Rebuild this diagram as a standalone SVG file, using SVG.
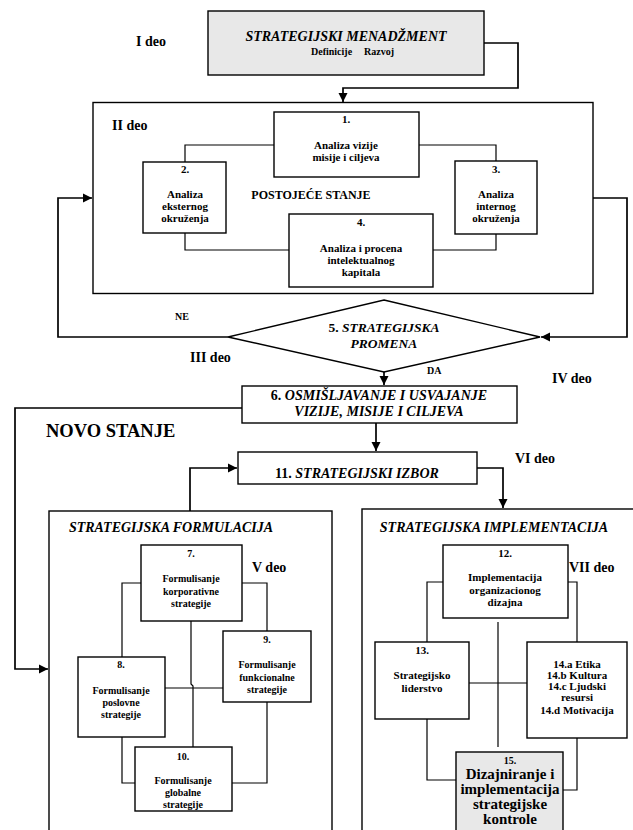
<svg xmlns="http://www.w3.org/2000/svg" width="633" height="830" viewBox="0 0 633 830">
<style>
text{font-family:"Liberation Serif","Times New Roman",serif;font-weight:bold;fill:#000}
.c{text-anchor:middle}
.i{font-style:italic}
.n{font-size:11px}
.f{font-size:10px}
.lbl{font-size:14px}
.box{fill:#fff;stroke:#000;stroke-width:1.4}
.gray{fill:#e8e8e8;stroke:#000;stroke-width:1.4}
.ln{fill:none;stroke:#000;stroke-width:1.2}
.ar{fill:none;stroke:#000;stroke-width:1.7}
</style>
<defs>
<marker id="ah" markerWidth="10" markerHeight="10" refX="9" refY="5" orient="auto" markerUnits="userSpaceOnUse">
<path d="M0,0.5 L9,5 L0,9.5 Z" fill="#000"/>
</marker>
</defs>
<rect width="633" height="830" fill="#fff"/>

<!-- containers -->
<g id="deo2">
<rect class="box" x="93" y="102.5" width="500" height="191"/>
<text class="lbl" x="112" y="130">II deo</text>
<text x="311" y="199" class="c" font-size="12">POSTOJEĆE STANJE</text>
</g>
<g id="formulacija">
<rect class="box" x="49" y="511" width="283" height="330"/>
<text class="i c" x="171" y="532" font-size="14">STRATEGIJSKA FORMULACIJA</text>
</g>
<g id="implementacija">
<rect class="box" x="362" y="509" width="290" height="330"/>
<text class="i c" x="494" y="532" font-size="14">STRATEGIJSKA IMPLEMENTACIJA</text>
</g>

<!-- connectors -->
<g id="connectors">
<path class="ar" d="M484 43 H518 V88 H343 V102" marker-end="url(#ah)"/>
<path class="ar" d="M593 198 H627 V337 H541" marker-end="url(#ah)"/>
<path class="ar" d="M228 337 H58 V198 H92" marker-end="url(#ah)"/>
<path class="ar" d="M384 372 V385" marker-end="url(#ah)"/>
<path class="ar" d="M242 408 H15 V669 H48" marker-end="url(#ah)"/>
<path class="ar" d="M376 423 V451" marker-end="url(#ah)"/>
<path class="ar" d="M190 511 V468 H237" marker-end="url(#ah)"/>
<path class="ar" d="M477 468 H503 V508" marker-end="url(#ah)"/>
<!-- box II internal -->
<path class="ln" d="M274 145 H185 V162"/>
<path class="ln" d="M419 145 H496 V161"/>
<path class="ln" d="M185 233 V250 H289"/>
<path class="ln" d="M433 250 H496 V234"/>
<!-- formulation internal -->
<path class="ln" d="M141 583 H122 V657"/>
<path class="ln" d="M242 583 H267 V631"/>
<path class="ln" d="M122 737 V783 H135"/>
<path class="ln" d="M267 702 V783 H232"/>
<path class="ln" d="M165 688 H223"/>
<path class="ln" d="M191 621 V684 L193 686 V747"/>
<!-- implementation internal -->
<path class="ln" d="M443 582 H427 V642"/>
<path class="ln" d="M568 582 H577 V642"/>
<path class="ln" d="M469 683 H527"/>
<path class="ln" d="M498 622 V747"/>
<path class="ln" d="M427 719 V780 H456"/>
<path class="ln" d="M577 738 V790 H563"/>
</g>

<!-- labels -->
<g id="labels">
<text class="lbl" x="136" y="46">I deo</text>
<text x="175" y="320" font-size="10">NE</text>
<text class="lbl" x="190" y="362">III deo</text>
<text x="427" y="374" font-size="10">DA</text>
<text class="lbl" x="552" y="383">IV deo</text>
<text x="46" y="437" font-size="18.5">NOVO STANJE</text>
<text class="lbl" x="515" y="463">VI deo</text>
<text class="lbl" x="252" y="572">V deo</text>
<text class="lbl" x="569" y="572">VII deo</text>
</g>

<!-- nodes -->
<g id="n-menadzment">
<rect class="gray" x="208" y="11" width="276" height="64"/>
<text class="i c" x="346" y="41" font-size="14">STRATEGIJSKI MENADŽMENT</text>
<text x="311" y="55" font-size="10">Definicije</text>
<text x="364" y="55" font-size="10">Razvoj</text>
</g>
<g id="n1">
<rect class="box" x="274" y="112" width="145" height="65"/>
<text class="c n" x="346" y="123">1.</text>
<text class="c n" x="346" y="149">Analiza vizije</text>
<text class="c n" x="346" y="161">misije i ciljeva</text>
</g>
<g id="n2">
<rect class="box" x="143" y="162" width="83" height="71"/>
<text class="c n" x="185" y="173">2.</text>
<text class="c n" x="185" y="198">Analiza</text>
<text class="c n" x="185" y="210">eksternog</text>
<text class="c n" x="185" y="222">okruženja</text>
</g>
<g id="n3">
<rect class="box" x="455" y="161" width="82" height="73"/>
<text class="c n" x="496" y="173">3.</text>
<text class="c n" x="496" y="198">Analiza</text>
<text class="c n" x="496" y="210">internog</text>
<text class="c n" x="496" y="222">okruženja</text>
</g>
<g id="n4">
<rect class="box" x="289" y="214" width="144" height="73"/>
<text class="c n" x="361" y="226">4.</text>
<text class="c n" x="361" y="252">Analiza i procena</text>
<text class="c n" x="361" y="264">intelektualnog</text>
<text class="c n" x="361" y="276">kapitala</text>
</g>
<g id="n5">
<polygon class="box" points="384,300 540,337 384,372 228,337"/>
<text class="c" x="384" y="332" font-size="13.5">5. <tspan font-style="italic">STRATEGIJSKA</tspan></text>
<text class="c i" x="384" y="348" font-size="13.5">PROMENA</text>
</g>
<g id="n6">
<rect class="box" x="242" y="386" width="275" height="37"/>
<text class="c" x="379" y="400" font-size="14">6. <tspan font-style="italic">OSMIŠLJAVANJE I USVAJANJE</tspan></text>
<text class="c i" x="379" y="416" font-size="14">VIZIJE, MISIJE I CILJEVA</text>
</g>
<g id="n11">
<rect class="box" x="238" y="452" width="239" height="32"/>
<text class="c" x="357" y="478" font-size="14">11. <tspan font-style="italic">STRATEGIJSKI IZBOR</tspan></text>
</g>
<g id="n7">
<rect class="box" x="141" y="545" width="101" height="76"/>
<text class="c f" x="191" y="557">7.</text>
<text class="c f" x="191" y="582">Formulisanje</text>
<text class="c f" x="191" y="595">korporativne</text>
<text class="c f" x="191" y="607">strategije</text>
</g>
<g id="n9">
<rect class="box" x="223" y="631" width="88" height="71"/>
<text class="c f" x="267" y="643">9.</text>
<text class="c f" x="267" y="668">Formulisanje</text>
<text class="c f" x="267" y="681">funkcionalne</text>
<text class="c f" x="267" y="693">strategije</text>
</g>
<g id="n8">
<rect class="box" x="78" y="657" width="87" height="80"/>
<text class="c f" x="121" y="668">8.</text>
<text class="c f" x="121" y="694">Formulisanje</text>
<text class="c f" x="121" y="706">poslovne</text>
<text class="c f" x="121" y="718">strategije</text>
</g>
<g id="n10">
<rect class="box" x="135" y="747" width="97" height="64"/>
<text class="c f" x="183" y="760">10.</text>
<text class="c f" x="183" y="784">Formulisanje</text>
<text class="c f" x="183" y="796">globalne</text>
<text class="c f" x="183" y="808">strategije</text>
</g>
<g id="n12">
<rect class="box" x="443" y="545" width="125" height="73"/>
<text class="c n" x="505" y="557">12.</text>
<text class="c n" x="505" y="581">Implementacija</text>
<text class="c n" x="505" y="594">organizacionog</text>
<text class="c n" x="505" y="606">dizajna</text>
</g>
<g id="n13">
<rect class="box" x="375" y="642" width="94" height="77"/>
<text class="c n" x="422" y="654">13.</text>
<text class="c n" x="422" y="679">Strategijsko</text>
<text class="c n" x="422" y="692">liderstvo</text>
</g>
<g id="n14">
<rect class="box" x="527" y="642" width="100" height="96"/>
<text class="c n" x="577" y="668">14.a Etika</text>
<text class="c n" x="577" y="679">14.b Kultura</text>
<text class="c n" x="577" y="690">14.c Ljudski</text>
<text class="c n" x="577" y="701">resursi</text>
<text class="c n" x="577" y="714">14.d Motivacija</text>
</g>
<g id="n15">
<rect class="gray" x="456" y="752" width="107" height="90"/>
<text class="c f" x="510" y="764">15.</text>
<text class="c" x="510" y="779" font-size="15">Dizajniranje i</text>
<text class="c" x="510" y="794" font-size="15">implementacija</text>
<text class="c" x="510" y="809" font-size="15">strategijske</text>
<text class="c" x="510" y="824" font-size="15">kontrole</text>
</g>
</svg>
